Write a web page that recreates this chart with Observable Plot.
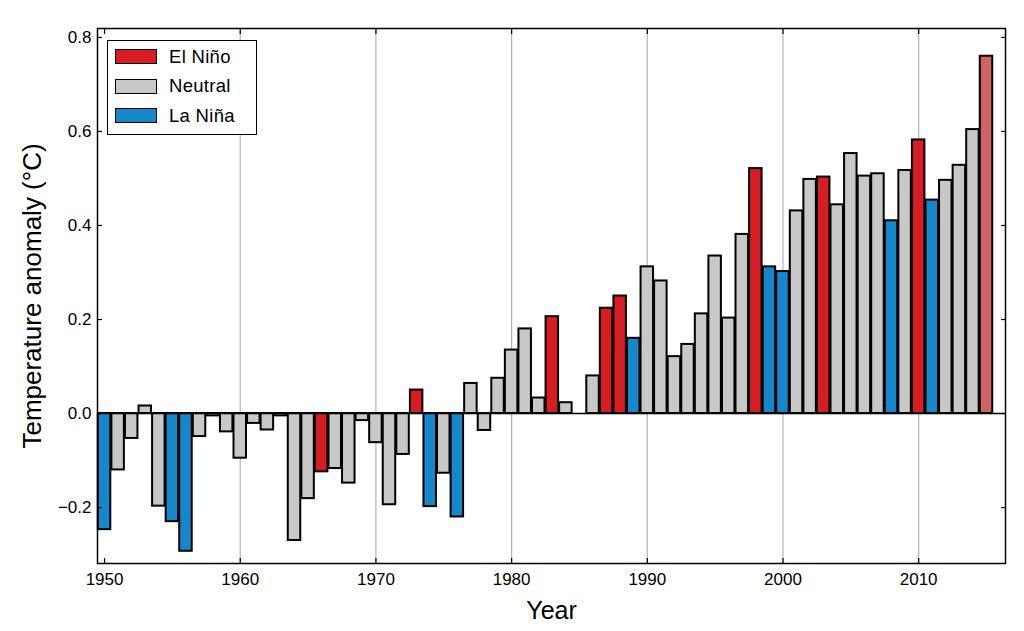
<!DOCTYPE html>
<html>
<head>
<meta charset="utf-8">
<script src="https://cdn.jsdelivr.net/npm/d3@7"></script>
<script src="https://cdn.jsdelivr.net/npm/@observablehq/plot@0.6"></script>
<style>
  html, body { margin: 0; padding: 0; background: #fff; }
  #wrap { position: relative; width: 1024px; height: 631px; font-family: "Liberation Sans", Arial, sans-serif; }
  #legend { position: absolute; left: 107px; top: 40px; width: 150px; height: 95px; border: 1.5px solid #000; background: #fff; box-sizing: border-box; padding: 1px 0 0 7px; }
  .row { display: flex; align-items: center; height: 29.5px; font-size: 18.5px; color: #000; letter-spacing: 0.3px; }
  .sw { width: 42px; height: 15px; border: 1.5px solid #000; box-sizing: border-box; margin-right: 12px; }
</style>
</head>
<body>
<div id="wrap"></div>
<script>
const years = d3.range(1950, 2016);
const anomalies = [
  -0.247, -0.120, -0.053, 0.016, -0.197, -0.230, -0.293, -0.049, -0.005, -0.039,
  -0.095, -0.021, -0.035, -0.005, -0.270, -0.181, -0.124, -0.117, -0.148, -0.015,
  -0.062, -0.194, -0.087, 0.050, -0.198, -0.127, -0.220, 0.064, -0.036, 0.075,
  0.135, 0.180, 0.033, 0.206, 0.023, 0.000, 0.080, 0.224, 0.250, 0.160,
  0.312, 0.282, 0.121, 0.147, 0.212, 0.335, 0.203, 0.381, 0.521, 0.312,
  0.302, 0.431, 0.498, 0.503, 0.444, 0.553, 0.505, 0.510, 0.410, 0.517,
  0.582, 0.454, 0.496, 0.528, 0.604, 0.760
];
// E = El Niño, N = Neutral, L = La Niña, P = El Niño (2015, lighter)
const phases = [
  "L","N","N","N","N","L","L","N","N","N",
  "N","N","N","N","N","N","E","N","N","N",
  "N","N","N","E","L","N","L","N","N","N",
  "N","N","N","E","N","N","N","E","E","L",
  "N","N","N","N","N","N","N","N","E","L",
  "L","N","N","E","N","N","N","N","L","N",
  "E","L","N","N","N","P"
];
const phaseKeys = ["E", "N", "L", "P"];
const phaseColors = ["#d71d24", "#c8c8c8", "#1787cb", "#d06262"];
const legendLabels = ["El Niño", "Neutral", "La Niña"];
const xTicks = [1950, 1960, 1970, 1980, 1990, 2000, 2010];
const gridYears = [1960, 1970, 1980, 1990, 2000, 2010];
const yTicks = [-0.2, 0.0, 0.2, 0.4, 0.6, 0.8];

const data = years.map((year, i) => ({year, value: anomalies[i], phase: phases[i]}));
const fmtY = d => d.toFixed(1).replace("-", "\u2212");

const chart = Plot.plot({
  width: 1024,
  height: 631,
  marginLeft: 97,
  marginRight: 19,
  marginTop: 28,
  marginBottom: 68,
  style: {fontFamily: "'Liberation Sans', Arial, sans-serif", fontSize: "16px", color: "#000", background: "#fff"},
  x: {domain: [1949.48, 2016.4], label: null},
  y: {domain: [-0.319, 0.819], label: null},
  color: {domain: phaseKeys, range: phaseColors},
  marks: [
    Plot.ruleX(gridYears, {stroke: "#b4b4b4", strokeWidth: 1.2}),
    Plot.rect(data, {
      x1: d => d.year - 0.46,
      x2: d => d.year + 0.46,
      y1: 0,
      y2: "value",
      fill: "phase",
      stroke: "#000",
      strokeWidth: 2
    }),
    Plot.ruleY([0], {stroke: "#000", strokeWidth: 1.5}),
    Plot.frame({stroke: "#000", strokeWidth: 1.5}),
    Plot.axisX({anchor: "bottom", ticks: xTicks, tickSize: -5, text: null, strokeWidth: 1.2}),
    Plot.axisX({anchor: "top", ticks: xTicks, tickSize: -5, text: null, strokeWidth: 1.2}),
    Plot.axisX({anchor: "bottom", ticks: xTicks, tickSize: 0, tickPadding: 9, tickFormat: d => String(d), fontSize: 17, label: null}),
    Plot.axisY({anchor: "left", ticks: yTicks, tickSize: -5, text: null, strokeWidth: 1.2}),
    Plot.axisY({anchor: "right", ticks: yTicks, tickSize: -5, text: null, strokeWidth: 1.2}),
    Plot.axisY({anchor: "left", ticks: yTicks, tickSize: 0, tickPadding: 6, tickFormat: fmtY, fontSize: 17, label: null}),
    Plot.text(["Year"], {frameAnchor: "bottom", dy: 55, fontSize: 25}),
    Plot.text(["Temperature anomaly (\u00b0C)"], {frameAnchor: "left", textAnchor: "middle", dx: -65, dy: 0, rotate: -90, fontSize: 26})
  ]
});

const wrap = document.getElementById("wrap");
wrap.appendChild(chart);

const legend = document.createElement("div");
legend.id = "legend";
legendLabels.forEach((label, i) => {
  const row = document.createElement("div");
  row.className = "row";
  const sw = document.createElement("div");
  sw.className = "sw";
  sw.style.background = phaseColors[i];
  const t = document.createElement("span");
  t.textContent = label;
  row.appendChild(sw);
  row.appendChild(t);
  legend.appendChild(row);
});
wrap.appendChild(legend);
</script>
</body>
</html>
